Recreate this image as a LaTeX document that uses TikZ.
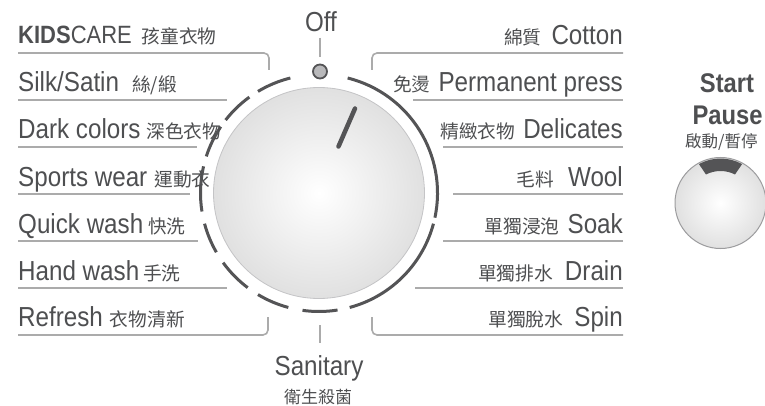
\documentclass[tikz,border=0pt]{standalone}
\usepackage{fontspec}
\usetikzlibrary{calc}
\setmainfont{Liberation Sans}[FakeStretch=0.88]
\newfontfamily\cjkfont{Noto Sans CJK TC}
\definecolor{txt}{HTML}{4E4F51}
\definecolor{rulegray}{HTML}{ABABAB}
\definecolor{ringgray}{HTML}{545456}
\definecolor{dotgray}{HTML}{B9B9BB}
\definecolor{edgegray}{HTML}{C4C4C6}
\definecolor{btnedge}{HTML}{9C9C9E}
\newcommand{\zh}[2][18.7]{{\cjkfont\fontsize{#1}{#1}\selectfont #2}}
\begin{document}
\begin{tikzpicture}[x=1pt,y=-1pt,
  lbl/.style={inner sep=0pt, text=txt, font=\fontsize{27.5}{30}\selectfont},
  lefttxt/.style={lbl, anchor=base west},
  righttxt/.style={lbl, anchor=base east},
  uline/.style={draw=rulegray, line width=1.6pt, rounded corners=5pt},
  ringarc/.style={draw=ringgray, line width=3pt},
  knobstyle/.style={circle, inner sep=0pt, shade, inner color=white, outer color=black!12},
]
\useasboundingbox (0,0) rectangle (765,406);
\clip (0,0) rectangle (765,406);
\fill[white] (0,0) rectangle (765,406);

% ---- underlines / brackets
\draw[uline] (18,53) -- (269,53) -- (269,70);
\draw[uline] (18,100) -- (227,100);
\draw[uline] (18,147) -- (197,147);
\draw[uline] (18,194) -- (190,194);
\draw[uline] (18,241) -- (198,241);
\draw[uline] (18,288) -- (227,288);
\draw[uline] (18,335) -- (268,335) -- (268,317);
\draw[uline] (623,53) -- (372,53) -- (372,70);
\draw[uline] (623,100) -- (413,100);
\draw[uline] (623,147) -- (443,147);
\draw[uline] (623,194) -- (453,194);
\draw[uline] (623,241) -- (443,241);
\draw[uline] (623,288) -- (415,288);
\draw[uline] (623,335) -- (372,335) -- (372,317);

% ---- dial ring
\coordinate (c) at (319,193);
\foreach \a/\b in {104/121,126/142,146/162,167/189,195/210,216/233,239/255,262/279,285/345,348/436}
  \draw[ringarc] (c) ++(-\a:118.5) arc[start angle=-\a, end angle=-\b, radius=118.5];

% ---- knob
\node[knobstyle, minimum size=211pt, draw=edgegray, line width=0.8pt] (knob) at (c) {};
\draw[ringgray, line width=4.5pt, line cap=round] (355,108.5) -- (338.5,146.5);

% ---- Off
\node[lbl, anchor=base] (off) at (321,32) {Off};
\draw[rulegray, line width=1.6pt] (320,38) -- (320,57);
\node[circle, minimum size=14pt, inner sep=0pt, fill=dotgray, draw=ringgray, line width=1.8pt] (offdot) at (320,71.5) {};

% ---- Sanitary
\draw[rulegray, line width=1.6pt] (320,325) -- (320,343);
\node[lbl, anchor=base] (sanitary) at (319,375) {Sanitary};
\node[lbl, anchor=base] (sanzh) at (318,403) {\zh[17]{衛生殺菌}};

% ---- left labels
\node[lefttxt, font=\fontsize{25}{28}\selectfont] (kids) at (18,44) {\textbf{KIDS}CARE\hspace{10pt}\zh{孩童衣物}};
\node[lefttxt] (silk) at (18,92) {Silk/Satin\hspace{13pt}\zh{絲/緞}};
\node[lefttxt] (dark) at (18,139) {Dark colors\hspace{6pt}\zh{深色衣物}};
\node[lefttxt] (sports) at (18,186) {Sports wear\hspace{7pt}\zh{運動衣}};
\node[lefttxt] (quick) at (18,233) {Quick wash\hspace{5pt}\zh{快洗}};
\node[lefttxt] (hand) at (18,280) {Hand wash\hspace{4pt}\zh{手洗}};
\node[lefttxt] (refresh) at (18,326) {Refresh\hspace{7pt}\zh{衣物清新}};

% ---- right labels
\node[righttxt] (cotton) at (623,45) {\zh{綿質}\hspace{10pt}Cotton};
\node[righttxt] (perm) at (623,92) {\zh{免燙}\hspace{8pt}Permanent press};
\node[righttxt] (deli) at (623,139) {\zh{精緻衣物}\hspace{8pt}Delicates};
\node[righttxt] (wool) at (623,186) {\zh{毛料}\hspace{14pt}Wool};
\node[righttxt] (soak) at (623,233) {\zh{單獨浸泡}\hspace{8pt}Soak};
\node[righttxt] (drain) at (623,280) {\zh{單獨排水}\hspace{12pt}Drain};
\node[righttxt] (spin) at (623,326) {\zh{單獨脫水}\hspace{11pt}Spin};

% ---- Start / Pause button
\node[lbl, anchor=base, font=\bfseries\fontsize{27}{30}\selectfont] (start) at (727,93) {Start};
\node[lbl, anchor=base, font=\bfseries\fontsize{27}{30}\selectfont] (pause) at (727.5,125) {Pause};
\node[lbl, anchor=base west] (startzh) at (685,148) {\zh[16.5]{啟動/暫停}};
\coordinate (b) at (720.5,203);
\node[knobstyle, minimum size=91pt, draw=btnedge, line width=1pt] (btn) at (b) {};
\fill[ringgray] ($(b)+(-61:44.5)$) arc[start angle=-61, end angle=-119, radius=44.5]
  -- ($(b)+(-117:32)$) arc[start angle=-117, end angle=-63, radius=32] -- cycle;
\end{tikzpicture}
\end{document}
